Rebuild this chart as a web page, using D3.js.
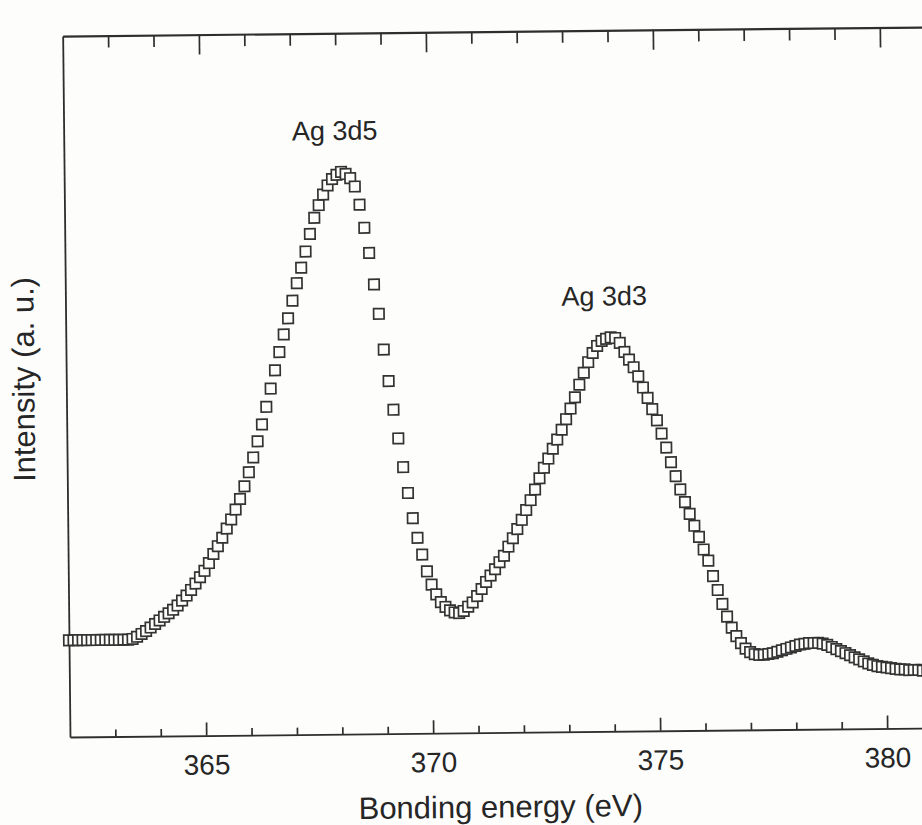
<!DOCTYPE html>
<html>
<head>
<meta charset="utf-8">
<script src="https://cdn.jsdelivr.net/npm/d3@7"></script>
<style>
  html, body { margin: 0; padding: 0; background: #fdfdfc; }
  svg { display: block; }
  text { font-family: "Liberation Sans", Arial, Helvetica, sans-serif; fill: #262626; }
</style>
</head>
<body>
<svg id="chart" width="922" height="825"></svg>
<script>
// Ag 3d XPS spectrum, 0.1 eV steps
const energy = [
  362.0,362.1,362.2,362.3,362.4,362.5,362.6,362.7,362.8,362.9,
  363.0,363.1,363.2,363.3,363.4,363.5,363.6,363.7,363.8,363.9,
  364.0,364.1,364.2,364.3,364.4,364.5,364.6,364.7,364.8,364.9,
  365.0,365.1,365.2,365.3,365.4,365.5,365.6,365.7,365.8,365.9,
  366.0,366.1,366.2,366.3,366.4,366.5,366.6,366.7,366.8,366.9,
  367.0,367.1,367.2,367.3,367.4,367.5,367.6,367.7,367.8,367.9,
  368.0,368.1,368.2,368.3,368.4,368.5,368.6,368.7,368.8,368.9,
  369.0,369.1,369.2,369.3,369.4,369.5,369.6,369.7,369.8,369.9,
  370.0,370.1,370.2,370.3,370.4,370.5,370.6,370.7,370.8,370.9,
  371.0,371.1,371.2,371.3,371.4,371.5,371.6,371.7,371.8,371.9,
  372.0,372.1,372.2,372.3,372.4,372.5,372.6,372.7,372.8,372.9,
  373.0,373.1,373.2,373.3,373.4,373.5,373.6,373.7,373.8,373.9,
  374.0,374.1,374.2,374.3,374.4,374.5,374.6,374.7,374.8,374.9,
  375.0,375.1,375.2,375.3,375.4,375.5,375.6,375.7,375.8,375.9,
  376.0,376.1,376.2,376.3,376.4,376.5,376.6,376.7,376.8,376.9,
  377.0,377.1,377.2,377.3,377.4,377.5,377.6,377.7,377.8,377.9,
  378.0,378.1,378.2,378.3,378.4,378.5,378.6,378.7,378.8,378.9,
  379.0,379.1,379.2,379.3,379.4,379.5,379.6,379.7,379.8,379.9,
  380.0,380.1,380.2,380.3,380.4,380.5,380.6,380.7,380.8,380.9,
  381.0
];

const intensity = [
  13.8,13.8,13.8,13.8,13.8,13.8,13.8,13.8,13.8,13.8,
  13.8,13.8,13.8,13.8,13.9,14.2,14.6,15.0,15.5,16.0,
  16.5,17.0,17.5,18.0,18.6,19.3,20.0,20.8,21.7,22.6,
  23.5,24.6,25.9,27.0,28.2,29.5,30.8,32.2,33.7,35.5,
  37.5,39.6,41.9,44.3,46.8,49.4,52.0,54.6,57.1,59.4,
  61.9,64.4,66.6,68.9,71.4,73.7,75.5,77.0,78.3,79.2,
  79.8,80.2,79.9,79.3,78.1,75.5,72.2,68.6,64.1,59.9,
  54.8,50.3,46.2,42.1,38.0,34.3,30.7,27.9,25.5,23.1,
  21.2,19.8,18.7,18.0,17.5,17.2,17.1,17.4,18.0,18.6,
  19.5,20.5,21.5,22.4,23.3,24.3,25.2,26.5,27.7,29.0,
  30.3,31.7,33.1,34.6,36.2,37.7,39.0,40.4,41.7,43.1,
  44.6,46.1,47.7,49.5,51.2,52.7,54.0,55.0,55.7,56.0,
  56.2,56.1,55.4,54.1,53.0,51.9,50.6,49.0,47.5,45.9,
  44.3,42.4,40.4,38.3,36.3,34.4,32.6,30.9,29.2,27.6,
  25.8,24.2,22.0,20.0,18.0,16.2,14.6,13.4,12.4,11.6,
  11.1,10.8,10.7,10.7,10.8,10.9,11.1,11.3,11.5,11.7,
  11.9,12.1,12.2,12.3,12.3,12.3,12.2,12.0,11.7,11.4,
  11.1,10.8,10.5,10.2,9.9,9.6,9.3,9.1,8.9,8.8,
  8.7,8.6,8.5,8.4,8.4,8.3,8.3,8.3,8.2,8.2,
  8.2
];

const majorTicks = [365, 370, 375, 380];
const minorTicks = [363, 364, 366, 367, 368, 369, 371, 372, 373, 374, 376, 377, 378, 379, 381];

const peakLabels = [
  { text: "Ag 3d5", energy: 368.1, value: 80.2 },
  { text: "Ag 3d3", energy: 374.0, value: 56.2 }
];

const xTitle = "Bonding energy (eV)";
const yTitle = "Intensity (a. u.)";

// ---- layout ----
const plotLeft = 70, plotRight = 978, plotTop = 36, plotBottom = 737;
const ink = "#2e2e2e";

const x = d3.scaleLinear().domain([362, 382]).range([plotLeft, plotRight]);
const y = d3.scaleLinear().domain([0, 100]).range([plotBottom, plotTop]);

const svg = d3.select("#chart");
// the printed figure sits slightly tilted on the page
const g = svg.append("g").attr("transform", `rotate(-0.6, ${plotLeft}, ${plotBottom})`);

function styleAxis(sel, width) {
  sel.selectAll(".domain").attr("stroke", ink).attr("stroke-width", width);
  sel.selectAll(".tick line").attr("stroke", ink).attr("stroke-width", 1.7);
}

// bottom axis: major ticks with labels, inward
const bAxis = g.append("g").attr("transform", `translate(0,${plotBottom})`)
  .call(d3.axisBottom(x).tickValues(majorTicks).tickSize(-13).tickSizeOuter(0)
    .tickPadding(19).tickFormat(d3.format("d")));
styleAxis(bAxis, 1.8);
bAxis.selectAll(".tick text").attr("font-size", 28)
  .style("font-family", "Liberation Sans, Arial, sans-serif").attr("fill", "#262626");

const bMinor = g.append("g").attr("transform", `translate(0,${plotBottom})`)
  .call(d3.axisBottom(x).tickValues(minorTicks).tickSize(-7).tickSizeOuter(0).tickFormat(""));
bMinor.select(".domain").remove();
styleAxis(bMinor, 1.8);

// top axis: ticks pointing down, no labels
const tAxis = g.append("g").attr("transform", `translate(0,${plotTop})`)
  .call(d3.axisTop(x).tickValues(majorTicks).tickSize(-20).tickSizeOuter(0).tickFormat(""));
styleAxis(tAxis, 2.2);
const tMinor = g.append("g").attr("transform", `translate(0,${plotTop})`)
  .call(d3.axisTop(x).tickValues(minorTicks).tickSize(-12).tickSizeOuter(0).tickFormat(""));
tMinor.select(".domain").remove();
styleAxis(tMinor, 2.2);

// left axis: frame line only
const lAxis = g.append("g").attr("transform", `translate(${plotLeft},0)`)
  .call(d3.axisLeft(y).tickValues([]).tickSizeOuter(0));
styleAxis(lAxis, 1.8);

// right axis
const rAxis = g.append("g").attr("transform", `translate(${plotRight},0)`)
  .call(d3.axisRight(y).tickValues([]).tickSizeOuter(0));
styleAxis(rAxis, 1.8);

// data: open squares
const pts = energy.map((e, i) => ({ e, v: intensity[i] }));
const s = 10.4;
g.append("g").selectAll("rect").data(pts).join("rect")
  .attr("x", d => x(d.e) - s / 2)
  .attr("y", d => y(d.v) - s / 2)
  .attr("width", s).attr("height", s)
  .attr("fill", "#fdfdfc")
  .attr("stroke", "#333")
  .attr("stroke-width", 1.7);

// peak labels
g.append("g").selectAll("text").data(peakLabels).join("text")
  .attr("x", d => x(d.energy) - 6)
  .attr("y", d => y(d.value) - 32)
  .attr("text-anchor", "middle")
  .attr("font-size", 27)
  .text(d => d.text);

// axis titles
g.append("text")
  .attr("x", 500).attr("y", 822)
  .attr("text-anchor", "middle")
  .attr("font-size", 31)
  .text(xTitle);

g.append("text")
  .attr("transform", "translate(38,379) rotate(-90)")
  .attr("text-anchor", "middle")
  .attr("font-size", 31)
  .text(yTitle);
</script>
</body>
</html>
